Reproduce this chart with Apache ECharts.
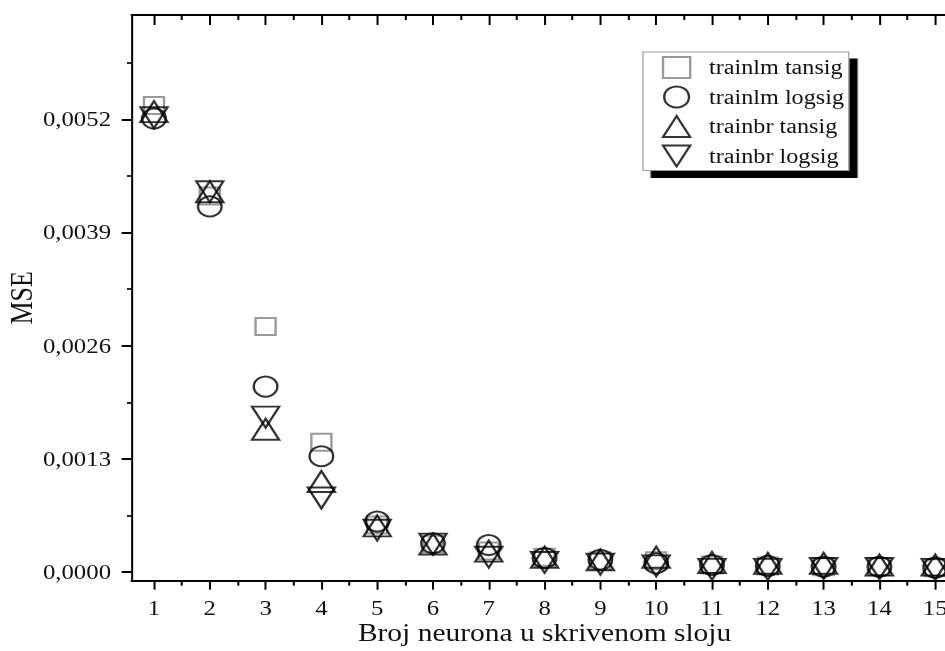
<!DOCTYPE html>
<html>
<head>
<meta charset="utf-8">
<script src="https://cdn.jsdelivr.net/npm/echarts@6/dist/echarts.min.js"></script>
<style>
  html, body { margin: 0; padding: 0; background: #fff; overflow: hidden; }
  /* the source figure is stretched sideways, so the chart is drawn narrower and scaled */
  #chart { width: 801px; height: 651px; transform: scaleX(1.1798); transform-origin: 0 0; }
</style>
</head>
<body>
<div id="chart"></div>
<script>
var neurons = [1, 2, 3, 4, 5, 6, 7, 8, 9, 10, 11, 12, 13, 14, 15];

var lmTansig = [0.00536, 0.00432, 0.00282, 0.00149, 0.00054, 0.00032, 0.00024, 0.00017, 0.00013, 0.00013, 0.00008, 0.00007, 0.00006, 0.00006, 0.00005];
var lmLogsig = [0.00521, 0.00420, 0.00213, 0.00133, 0.00058, 0.00033, 0.00031, 0.00016, 0.00014, 0.00010, 0.00008, 0.00007, 0.00006, 0.00006, 0.00005];
var brTansig = [0.00529, 0.00437, 0.00164, 0.00104, 0.00053, 0.00032, 0.00024, 0.00017, 0.00014, 0.00017, 0.00011, 0.00010, 0.00010, 0.00008, 0.00008];
var brLogsig = [0.00522, 0.00437, 0.00178, 0.00085, 0.00048, 0.00032, 0.00017, 0.00011, 0.00009, 0.00007, 0.00003, 0.00003, 0.00004, 0.00004, 0.00003];

var seriesNames = ['trainlm tansig', 'trainlm logsig', 'trainbr tansig', 'trainbr logsig'];

var xTicks = [1, 2, 3, 4, 5, 6, 7, 8, 9, 10, 11, 12, 13, 14, 15];
var xMinorTicks = [1.5, 2.5, 3.5, 4.5, 5.5, 6.5, 7.5, 8.5, 9.5, 10.5, 11.5, 12.5, 13.5, 14.5];
var yTicks = [0, 0.0013, 0.0026, 0.0039, 0.0052];
var yMinorTicks = [0.00065, 0.00195, 0.00325, 0.00455, 0.00585];

var FONT = 'Liberation Serif';
var INK = '#111';
var DOWN_TRIANGLE = 'path://M0,0L23,0L11.5,21Z';

function pairs(values) {
  return neurons.map(function(n, i) { return [n, values[i]]; });
}

function hollow(name, values, symbol, size, stroke) {
  return {
    name: name,
    type: 'scatter',
    data: pairs(values),
    symbol: symbol,
    symbolSize: size,
    itemStyle: { color: 'rgba(0,0,0,0)', borderColor: stroke, borderWidth: 2 },
    emphasis: { disabled: true }
  };
}

function minorAxis(pos, ticks, len, inside) {
  return {
    type: 'value', position: pos, min: pos === 'left' ? -0.0001 : 0.6, max: pos === 'left' ? 0.0064 : 15.4,
    axisLine: { show: false, onZero: false },
    axisTick: { show: true, inside: !!inside, length: len, customValues: ticks, lineStyle: { color: '#000', width: 1.7 } },
    axisLabel: { show: false },
    splitLine: { show: false }
  };
}

var chart = echarts.init(document.getElementById('chart'), null, { renderer: 'svg' });

chart.setOption({
  animation: false,
  backgroundColor: '#fff',
  grid: { left: 111.6, top: 15, right: -10.6, bottom: 70.3, outerBoundsMode: 'none', containLabel: false },
  legend: {
    orient: 'vertical',
    left: 545, top: 52,
    padding: [4, 4, 3, 16],
    itemWidth: 23, itemHeight: 21, itemGap: 6.5,
    selectedMode: false,
    backgroundColor: '#fff',
    borderColor: '#999', borderWidth: 1,
    shadowColor: '#000', shadowBlur: 0, shadowOffsetX: 7, shadowOffsetY: 7,
    textStyle: { fontFamily: FONT, fontSize: 20.5, color: INK, padding: [0, 0, 0, 11] },
    data: seriesNames
  },
  xAxis: [
    {
      type: 'value', position: 'bottom', min: 0.6, max: 15.4,
      name: 'Broj neurona u skrivenom sloju', nameLocation: 'middle', nameGap: 40, nameMoveOverlap: false,
      nameTextStyle: { fontFamily: FONT, fontSize: 25, color: INK },
      axisLine: { onZero: false, lineStyle: { color: '#000', width: 2 } },
      axisTick: { length: 9, customValues: xTicks, lineStyle: { color: '#000', width: 1.7 } },
      axisLabel: { customValues: xTicks, margin: 17, fontFamily: FONT, fontSize: 21, color: INK },
      splitLine: { show: false }
    },
    minorAxis('bottom', xMinorTicks, 5),
    {
      type: 'value', position: 'top', min: 0.6, max: 15.4,
      axisLine: { onZero: false, lineStyle: { color: '#000', width: 2 } },
      axisTick: { inside: true, length: 10, customValues: xTicks, lineStyle: { color: '#000', width: 1.7 } },
      axisLabel: { show: false },
      splitLine: { show: false }
    },
    minorAxis('top', xMinorTicks, 5, true)
  ],
  yAxis: [
    {
      type: 'value', position: 'left', min: -0.0001, max: 0.0064,
      name: 'MSE', nameLocation: 'middle', nameGap: 80, nameMoveOverlap: false,
      nameTextStyle: { fontFamily: FONT, fontSize: 26, color: INK },
      axisLine: { onZero: false, lineStyle: { color: '#000', width: 1.7 } },
      axisTick: { length: 8.5, customValues: yTicks, lineStyle: { color: '#000', width: 2 } },
      axisLabel: {
        customValues: yTicks, margin: 17.5, fontFamily: FONT, fontSize: 21, color: INK,
        formatter: function(v) { return v.toFixed(4).replace('.', ','); }
      },
      splitLine: { show: false }
    },
    minorAxis('left', yMinorTicks, 4)
  ],
  series: [
    hollow(seriesNames[0], lmTansig, 'rect', 17, '#7f7f7f'),
    hollow(seriesNames[1], lmLogsig, 'circle', 20, '#000'),
    hollow(seriesNames[2], brTansig, 'triangle', [23, 21], '#000'),
    hollow(seriesNames[3], brLogsig, DOWN_TRIANGLE, [23, 21], '#000')
  ]
});
</script>
</body>
</html>
